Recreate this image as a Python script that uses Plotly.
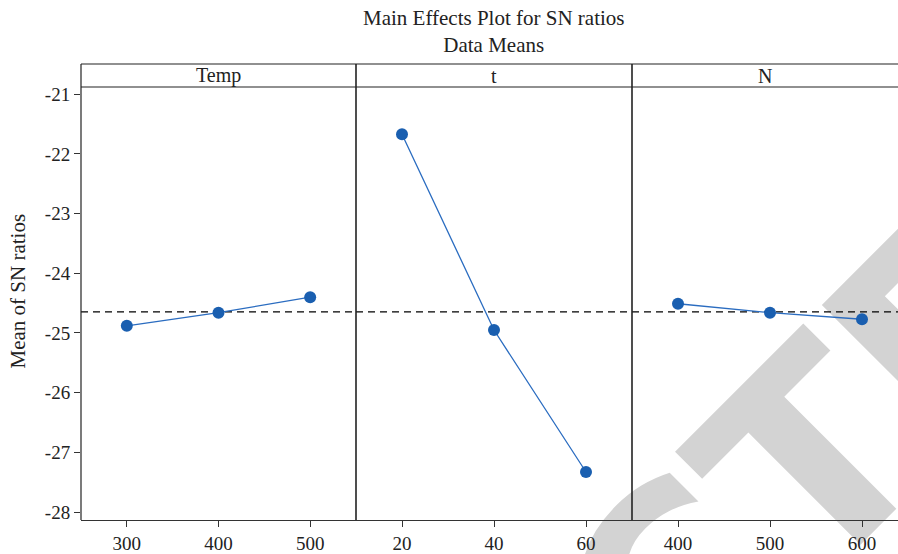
import numpy as np
import plotly.graph_objects as go

# Factor levels and mean S/N ratio per level
temp_levels = [300, 400, 500]
temp_sn = [-24.88, -24.66, -24.40]

t_levels = [20, 40, 60]
t_sn = [-21.67, -24.95, -27.33]

n_levels = [400, 500, 600]
n_sn = [-24.51, -24.66, -24.77]

factor_names = ["Temp", "t", "N"]
y_ticks = [-21, -22, -23, -24, -25, -26, -27, -28]

overall_mean = float(np.mean(temp_sn + t_sn + n_sn))

W, H = 898, 554
ML, MR, MT, MB = 81, 0, 87, 34
plot_w = W - ML - MR
plot_h = H - MT - MB


def px_x(px):
    return (px - ML) / plot_w


def px_y(py):
    return (H - MB - py) / plot_h


SERIF = "Liberation Serif, Times New Roman, serif"
TXT = "#222222"
BLUE = "#1a5fb0"
LINE_BLUE = "#2a6cc0"
AXIS = "#333333"

fig = go.Figure()

panels = [
    (temp_levels, temp_sn, [250, 550]),
    (t_levels, t_sn, [10, 70]),
    (n_levels, n_sn, [350, 350 + 300 * (898 - 632) / 276]),
]
divs = [81, 356, 632, 898]

for i, (lv, sn, rng) in enumerate(panels):
    xa = "x" if i == 0 else f"x{i + 1}"
    # reference line at the overall mean
    fig.add_trace(go.Scatter(
        x=rng, y=[overall_mean, overall_mean], xaxis=xa, yaxis="y",
        mode="lines", line=dict(color="#000", width=1.3, dash="7px,5px"),
        showlegend=False, hoverinfo="skip",
    ))
    fig.add_trace(go.Scatter(
        x=lv, y=sn, xaxis=xa, yaxis="y",
        mode="lines+markers",
        line=dict(color=LINE_BLUE, width=1.3),
        marker=dict(color=BLUE, size=12),
        showlegend=False, hoverinfo="x+y",
    ))
    key = "xaxis" if i == 0 else f"xaxis{i + 1}"
    fig.layout[key] = dict(
        domain=[px_x(divs[i]), px_x(divs[i + 1])],
        range=rng, tickvals=lv, ticktext=[str(v) for v in lv],
        showgrid=False, zeroline=False, showline=True,
        linecolor=AXIS, linewidth=1.2,
        ticks="outside", ticklen=6, tickcolor=AXIS,
        tickfont=dict(family=SERIF, size=19, color=TXT),
        anchor="y", fixedrange=True,
    )

fig.update_layout(
    yaxis=dict(
        range=[-28.134, -20.878], tickvals=y_ticks,
        ticktext=[str(v) for v in y_ticks],
        showgrid=False, zeroline=False, showline=False,
        ticks="outside", ticklen=6, tickcolor=AXIS,
        tickfont=dict(family=SERIF, size=19, color=TXT),
        fixedrange=True,
    ),
)

# Panel frame: left edge, dividers, strip top and strip bottom
shapes = []
for xp, w in [(81, 1.2), (356, 1.6), (632, 1.6)]:
    shapes.append(dict(type="line", xref="paper", yref="paper",
                       x0=px_x(xp), x1=px_x(xp), y0=px_y(520), y1=px_y(64),
                       line=dict(color="#222", width=w), layer="above"))
for yp in (64, 87):
    shapes.append(dict(type="line", xref="paper", yref="paper",
                       x0=px_x(81), x1=1, y0=px_y(yp), y1=px_y(yp),
                       line=dict(color="#222", width=1.2), layer="above"))

# Diagonal watermark lettering behind the plot
shapes.append(dict(
    type="rect", xref="paper", yref="paper", layer="below",
    x0=px_x(521), x1=px_x(523), y0=px_y(725), y1=px_y(723),
    line=dict(width=0), fillcolor="rgba(0,0,0,0)",
    label=dict(text="<b>RETRACTED</b>", textangle=-45,
               textposition="middle center",
               font=dict(family="DejaVu Sans", size=270, color="#d3d3d3")),
))
fig.update_layout(shapes=shapes)

annotations = [
    dict(text="Main Effects Plot for SN ratios<br>Data Means",
         xref="paper", yref="paper", x=px_x(493.5), y=px_y(4),
         xanchor="center", yanchor="top", showarrow=False,
         font=dict(family=SERIF, size=21, color=TXT)),
    dict(text="Mean of SN ratios", textangle=-90,
         xref="paper", yref="paper", x=px_x(17.5), y=px_y(291),
         xanchor="center", yanchor="middle", showarrow=False,
         font=dict(family=SERIF, size=21, color=TXT)),
]
strip_centers = [218.5, 494, 765]
for name, cx in zip(factor_names, strip_centers):
    annotations.append(dict(
        text=name, xref="paper", yref="paper",
        x=px_x(cx), y=px_y(75.5),
        xanchor="center", yanchor="middle", showarrow=False,
        font=dict(family=SERIF, size=20, color=TXT)))
fig.update_layout(annotations=annotations)

fig.update_layout(
    width=W, height=H,
    margin=dict(l=ML, r=MR, t=MT, b=MB),
    paper_bgcolor="white", plot_bgcolor="rgba(0,0,0,0)",
)

fig.write_html("out.html")
